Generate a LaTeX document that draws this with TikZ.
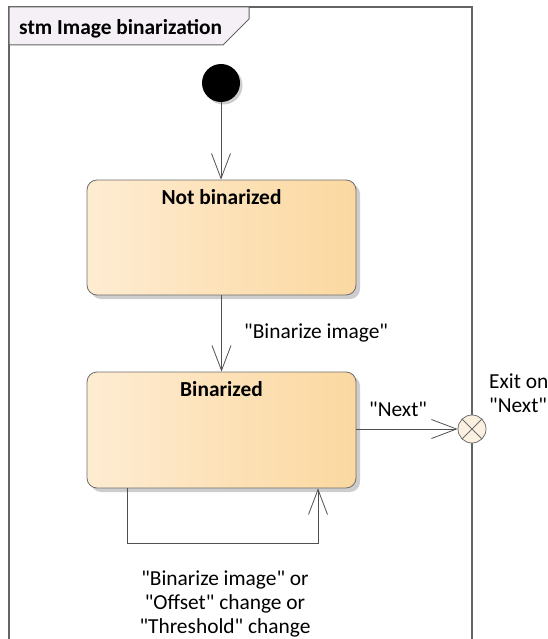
\documentclass[tikz,border=0pt]{standalone}
\usepackage{fontspec}
\setmainfont{Carlito}[Ligatures=TeXOff]
\usetikzlibrary{arrows.meta,shadows}

\definecolor{frameline}{RGB}{100,100,100}
\definecolor{tabfill}{RGB}{244,240,245}
\definecolor{stateleft}{RGB}{254,236,210}
\definecolor{stateright}{RGB}{251,216,160}
\definecolor{stateline}{RGB}{110,110,110}
\definecolor{shadowgray}{RGB}{205,205,205}
\definecolor{exitfill}{RGB}{252,240,224}
\definecolor{linecol}{RGB}{80,80,80}

\tikzset{
  diagfont/.style={font=\fontsize{21.4}{24.5}\selectfont},
  statebox/.style={rectangle, rounded corners=10pt, draw=stateline, line width=0.8pt,
    left color=stateleft, right color=stateright,
    minimum width=269pt, inner sep=0pt,
    drop shadow={shadow xshift=4pt, shadow yshift=-4pt, fill=shadowgray, opacity=1}},
  statetitle/.style={anchor=base, yshift=-25pt, inner sep=0pt, font=\fontsize{21.4}{24.5}\selectfont\bfseries},
  trans/.style={draw=linecol, line width=0.8pt, -{Straight Barb[length=25pt,width=19pt]}},
  edgelabel/.style={inner sep=0pt, diagfont},
}

\begin{document}
\begin{tikzpicture}[x=1pt,y=-1pt]
\useasboundingbox (0,0) rectangle (548,639);

% diagram frame
\draw[frameline, line width=1.3pt] (9,639) -- (9,7) -- (472,7) -- (472,639);

% frame name tab
\draw[frameline, fill=tabfill, line width=1pt]
  (9,7) -- (249,7) -- (249,19) -- (223,45) -- (9,45) -- cycle;
\node[anchor=base west, inner sep=0pt, font=\fontsize{21.4}{24.5}\selectfont\bfseries]
  (frametitle) at (19,35) {stm Image binarization};

% initial pseudostate
\fill[shadowgray] (223.5,85.5) circle (19);
\node[circle, fill=black, minimum size=38pt, inner sep=0pt] (init) at (221,83) {};

% states
\node[statebox, minimum height=115pt,
  label={[statetitle]north:Not binarized}] (nb) at (221.5,237.5) {};
\node[statebox, minimum height=116pt,
  label={[statetitle]north:Binarized}] (bin) at (221.5,430) {};

% exit point
\node[circle, draw=stateline, fill=exitfill, line width=0.8pt, minimum size=28pt, inner sep=0pt]
  (exit) at (472,429) {};
\draw[stateline, line width=0.8pt] (exit.north west) -- (exit.south east)
  (exit.north east) -- (exit.south west);
\node[edgelabel, anchor=base west] (exitlbl1) at (489,388) {Exit on};
\node[edgelabel, anchor=base west] (exitlbl2) at (489,412) {"Next"};

% transitions
\draw[trans] (init) -- (init |- nb.north);
\draw[trans] (nb.south) -- (bin.north);
\node[edgelabel, anchor=base west] (lblbin) at (244,338) {"Binarize image"};

\draw[trans] (bin.east |- exit.west) -- (exit.west);
\node[edgelabel, anchor=base west] (lblnext) at (369,416) {"Next"};

\coordinate (loopA) at (127,543);
\coordinate (loopB) at (318,543);
\draw[trans] (bin.south -| loopA) -- (loopA) -- (loopB) -- (bin.south -| loopB);
\node[edgelabel, anchor=base] (loop1) at (225,585) {"Binarize image" or};
\node[edgelabel, anchor=base] (loop2) at (225,609) {"Offset" change or};
\node[edgelabel, anchor=base] (loop3) at (225,633) {"Threshold" change};
\end{tikzpicture}
\end{document}
